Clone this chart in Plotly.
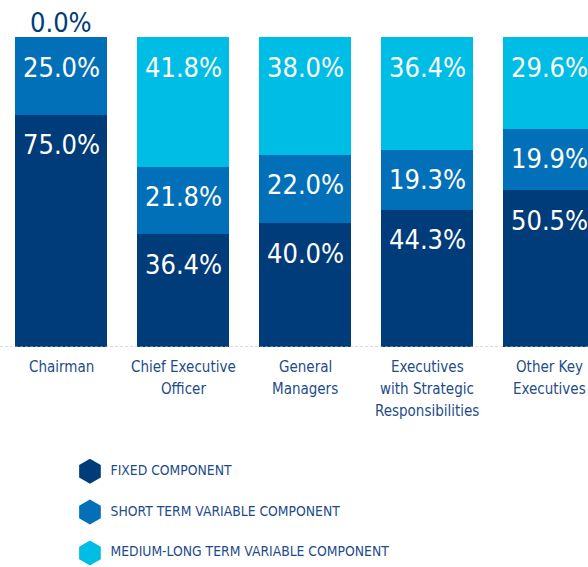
import plotly.graph_objects as go
import numpy as np

categories = ["Chairman", "Chief Executive<br>Officer", "General<br>Managers",
              "Executives<br>with Strategic<br>Responsibilities", "Other Key<br>Executives"]
fixed = [75.0, 36.4, 40.0, 44.3, 50.5]
short_term = [25.0, 21.8, 22.0, 19.3, 19.9]
medium_long = [0.0, 41.8, 38.0, 36.4, 29.6]
series_names = ["FIXED COMPONENT", "SHORT TERM VARIABLE COMPONENT", "MEDIUM-LONG TERM VARIABLE COMPONENT"]
colors = ["#003b7a", "#0270b8", "#00bde5"]

FONT = "DejaVu Sans, sans-serif"
TEXT_BLUE = "#1e4c8a"


def cond(s):
    return '<span style="font-stretch:condensed">' + s + '</span>'


series = [fixed, short_term, medium_long]

fig = go.Figure()
for vals, name, col in zip(series, series_names, colors):
    fig.add_trace(go.Bar(x=categories, y=vals, name=name, marker=dict(color=col, line=dict(width=0)),
                         showlegend=False, hoverinfo="y"))

annotations = []
# value labels
cum = np.cumsum(np.array(series), axis=0)
for k, vals in enumerate(series):
    for i, v in enumerate(vals):
        top = cum[k][i]
        inside = v > 0
        annotations.append(dict(x=categories[i], y=top, xref="x", yref="y",
                                yshift=-30 if inside else 15,
                                text=cond(f"{v:.1f}%"), showarrow=False, yanchor="middle",
                                font=dict(family=FONT, size=27, color="white" if inside else colors[0])))

# category labels, one annotation per line so the line spacing matches
for c in categories:
    for j, line in enumerate(c.split("<br>")):
        annotations.append(dict(x=c, y=0, xref="x", yref="y", yshift=-20 - 22 * j,
                                text=cond(line), showarrow=False, yanchor="middle",
                                font=dict(family=FONT, size=15, color=TEXT_BLUE)))

# custom legend with hexagon markers
legend_idx = list(range(len(series_names)))
fig.add_trace(go.Scatter(x=[0.153] * len(series_names), y=legend_idx, xaxis="x2", yaxis="y2",
                         mode="markers+text", text=[cond(" " + s) for s in series_names],
                         textposition="middle right",
                         textfont=dict(family=FONT, size=13.8, color=TEXT_BLUE),
                         marker=dict(symbol="hexagon", size=25, color=colors, line=dict(width=0)),
                         showlegend=False, hoverinfo="skip", cliponaxis=False))

fig.add_shape(type="line", xref="paper", yref="y", x0=0, x1=1, y0=0, y1=0,
              line=dict(color="#b5b5b5", width=1, dash="3px,2px"), layer="above")

fig.update_layout(
    width=588, height=567,
    margin=dict(l=0, r=0, t=0, b=0),
    paper_bgcolor="white", plot_bgcolor="white",
    barmode="stack", bargap=0.246,
    annotations=annotations,
    xaxis=dict(domain=[0, 1], range=[-0.5, 4.3197], showgrid=False, zeroline=False, showline=False,
               showticklabels=False, ticks="", fixedrange=True),
    yaxis=dict(domain=[0.388, 0.9347], range=[0, 100], visible=False, fixedrange=True),
    xaxis2=dict(domain=[0, 1], range=[0, 1], visible=False, anchor="y2", fixedrange=True),
    yaxis2=dict(domain=[0, 0.25], range=[2.341, -1.122], visible=False, anchor="x2", fixedrange=True),
)

fig.write_html("out.html", config={"displayModeBar": False},
               post_script="document.body.style.margin='0';document.body.style.overflow='hidden';")
